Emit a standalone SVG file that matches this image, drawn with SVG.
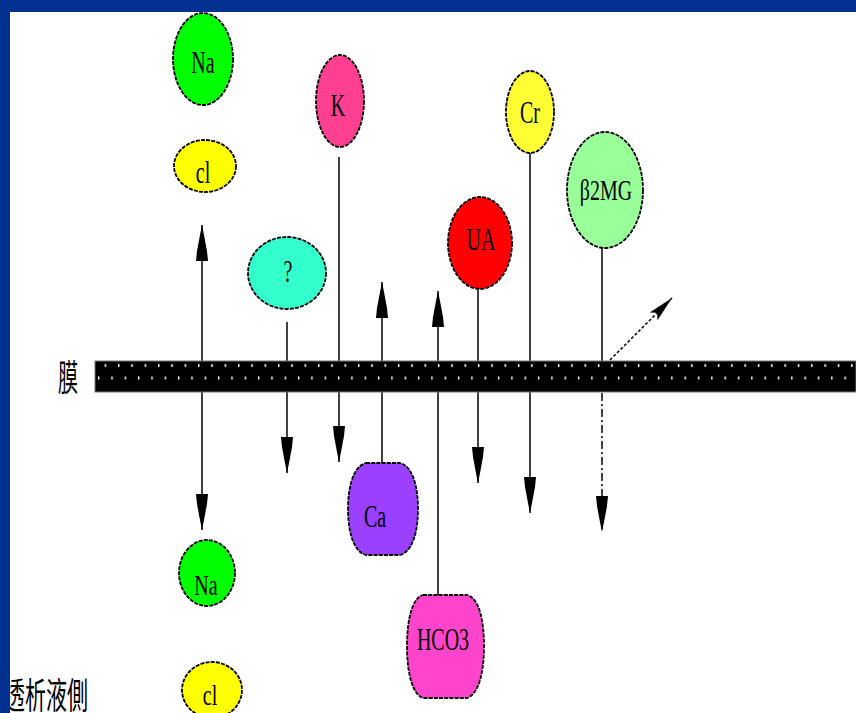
<svg xmlns="http://www.w3.org/2000/svg" width="856" height="713" viewBox="0 0 856 713">
<style>
.node{stroke:#000;stroke-width:1.8;stroke-dasharray:4 1.2}
.lbl{font-family:"Liberation Serif","Times New Roman",serif;font-size:20px;fill:#000;text-anchor:middle}
.cn{stroke:#111;stroke-width:1.6;fill:none}
.cjk{font-family:"Noto Sans CJK TC","Noto Sans CJK SC",sans-serif;fill:#000}
</style>
<defs>
<marker id="ah" markerUnits="userSpaceOnUse" markerWidth="40" markerHeight="14" refX="36" refY="7" orient="auto-start-reverse" overflow="visible">
<path d="M0,1 L10,2 L24,4.6 L36,7 L24,9.4 L10,12 L0,13 Z" fill="#000"/>
</marker>
<marker id="ah2" markerUnits="userSpaceOnUse" markerWidth="26" markerHeight="14" refX="26" refY="7" orient="auto" overflow="visible">
<path d="M0,1.5 L26,7 L0,12.5 L5,7 Z" fill="#000"/>
</marker>
<pattern id="dots" patternUnits="userSpaceOnUse" x="98" y="361" width="13.33" height="31">
<rect x="6.67" y="3" width="1.4" height="3" fill="#fff"/>
<rect x="0" y="15.5" width="1.4" height="3" fill="#fff"/>
</pattern>
</defs>
<rect width="856" height="713" fill="#fff"/>

<g id="connectors">
<line class="cn" x1="202" y1="225" x2="202" y2="530" marker-start="url(#ah)" marker-end="url(#ah)"/>
<line class="cn" x1="287" y1="322" x2="287" y2="473" marker-end="url(#ah)"/>
<line class="cn" x1="339" y1="157" x2="339" y2="462" marker-end="url(#ah)"/>
<line class="cn" x1="382" y1="463" x2="382" y2="282" marker-end="url(#ah)"/>
<line class="cn" x1="438" y1="595" x2="438" y2="291" marker-end="url(#ah)"/>
<line class="cn" x1="478" y1="290" x2="478" y2="483" marker-end="url(#ah)"/>
<line class="cn" x1="530" y1="153" x2="530" y2="513" marker-end="url(#ah)"/>
<line class="cn" x1="602" y1="248" x2="602" y2="362"/>
<line class="cn" x1="602" y1="393" x2="602" y2="532" stroke-dasharray="8 3 2 3" marker-end="url(#ah)"/>
<line class="cn" x1="610" y1="360" x2="672" y2="298" stroke-dasharray="3 2" marker-end="url(#ah2)"/>
</g>

<g id="membrane">
<rect x="95" y="361" width="761" height="31" fill="#000" stroke="#777" stroke-width="1"/>
<rect x="95" y="361" width="761" height="31" fill="url(#dots)"/>
<text class="cjk" x="58" y="391" font-size="36" textLength="20" lengthAdjust="spacingAndGlyphs">膜</text>
</g>

<g id="dialysate-label">
<text class="cjk" x="4" y="709" font-size="36" textLength="84" lengthAdjust="spacingAndGlyphs">透析液側</text>
</g>

<g id="na-top">
<ellipse class="node" cx="203" cy="59" rx="30" ry="46" fill="#00ff00"/>
<text class="lbl" transform="translate(203,73) scale(1,1.6)">Na</text>
</g>
<g id="cl-top">
<ellipse class="node" cx="205" cy="166" rx="31" ry="26" fill="#ffff00"/>
<text class="lbl" transform="translate(203,183) scale(1,1.6)">cl</text>
</g>
<g id="k">
<ellipse class="node" cx="340" cy="101" rx="24" ry="46" fill="#ff3f8f"/>
<text class="lbl" transform="translate(338,116) scale(1,1.6)">K</text>
</g>
<g id="cr">
<ellipse class="node" cx="530" cy="112" rx="24" ry="41" fill="#ffff33"/>
<text class="lbl" transform="translate(530,123) scale(1,1.6)">Cr</text>
</g>
<g id="b2mg">
<ellipse class="node" cx="605" cy="190" rx="38" ry="58" fill="#99ff99"/>
<text class="lbl" transform="translate(606,200) scale(1,1.5)">β2MG</text>
</g>
<g id="ua">
<ellipse class="node" cx="480" cy="243" rx="32" ry="46" fill="#ff0000"/>
<text class="lbl" transform="translate(481,250) scale(1,1.6)">UA</text>
</g>
<g id="unknown">
<ellipse class="node" cx="287" cy="273" rx="39" ry="36" fill="#33ffcc"/>
<text class="lbl" transform="translate(288,282) scale(1,1.6)">?</text>
</g>
<g id="ca">
<path class="node" d="M366,463 H400 C412,466 418,485 418,509 C418,533 412,552 400,555 H366 C354,552 348,533 348,509 C348,485 354,466 366,463 Z" fill="#9b40ff"/>
<text class="lbl" transform="translate(375,527) scale(1,1.6)">Ca</text>
</g>
<g id="hco3">
<path class="node" d="M423,595 H467 C479,598 484,620 484,646 C484,672 479,694 467,698 H423 C412,694 407,672 407,646 C407,620 412,598 423,595 Z" fill="#ff44cc"/>
<text class="lbl" transform="translate(443,650) scale(1,1.6)">HCO3</text>
</g>
<g id="na-bottom">
<ellipse class="node" cx="207" cy="573" rx="28" ry="33" fill="#00ff00"/>
<text class="lbl" transform="translate(206,595) scale(1,1.5)">Na</text>
</g>
<g id="cl-bottom">
<ellipse class="node" cx="212" cy="690" rx="30" ry="28" fill="#ffff00"/>
<text class="lbl" transform="translate(210,705) scale(1,1.5)">cl</text>
</g>

<g id="frame">
<rect x="0" y="0" width="856" height="12" fill="#003090"/>
<rect x="0" y="0" width="10" height="713" fill="#003090"/>
</g>
</svg>
